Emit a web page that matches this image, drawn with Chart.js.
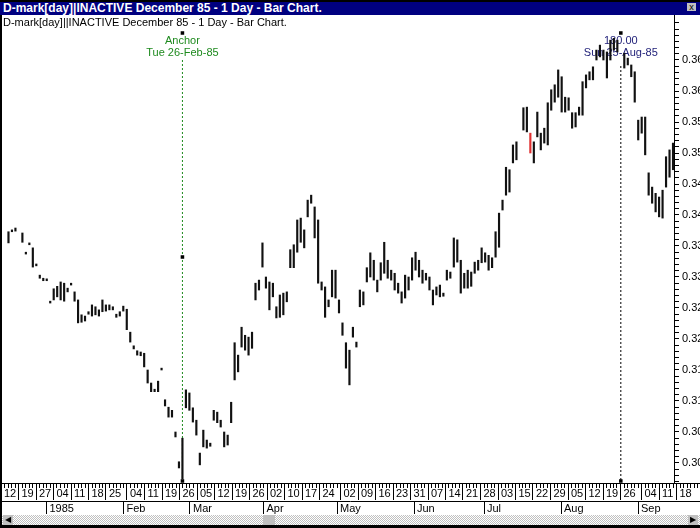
<!DOCTYPE html>
<html lang="en">
<head>
<meta charset="UTF-8">
<script src="https://cdn.jsdelivr.net/npm/chart.js@4.4.0/dist/chart.umd.min.js"></script>
<title>D-mark - Bar Chart</title>
<style>
  body { margin: 0; background: #fff; }
  #wrap { position: relative; width: 700px; height: 528px; overflow: hidden; font-family: "Liberation Sans", Arial, sans-serif; }
  #myChart { position: absolute; left: 0; top: 0; }
  #titlebar { position: absolute; left: 0; top: 0; width: 700px; height: 15px; box-sizing: border-box;
              border-top: 2px solid #000; background: #000080; color: #fff; font-weight: bold;
              font-size: 12px; line-height: 12px; padding-left: 3px; white-space: nowrap; }
  #closebtn { position: absolute; left: 687px; top: 1px; width: 9px; height: 8px; background: #c0c0c0;
              color: #000; font-size: 9px; line-height: 8px; text-align: center; font-weight: normal; }
  #subtitle { position: absolute; left: 3px; top: 16px; font-size: 11px; color: #000; white-space: nowrap; }
  #leftborder { position: absolute; left: 0; top: 15px; width: 2px; height: 513px; background: #000; }
  #scroll { position: absolute; left: 2px; top: 515px; width: 698px; height: 10px;
            background: repeating-conic-gradient(#c0c0c0 0% 25%, #ffffff 0% 50%) 0 0 / 2px 2px; }
  .sbtn { position: absolute; top: 0; width: 10px; height: 10px; background: #c0c0c0; font-size: 8px;
          line-height: 10px; text-align: center; color: #000; }
  #thumb { position: absolute; left: 261px; top: 0; width: 12px; height: 10px; background: #c0c0c0; }
  #bottomborder { position: absolute; left: 0; top: 525px; width: 700px; height: 3px; background: #000; }
</style>
</head>
<body>
<div id="wrap">
  <canvas id="myChart" width="700" height="528"></canvas>
  <div id="titlebar">D-mark[day]|INACTIVE December 85 - 1 Day - Bar Chart.<div id="closebtn">x</div></div>
  <div id="subtitle">D-mark[day]||INACTIVE December 85 - 1 Day - Bar Chart.</div>
  <div id="leftborder"></div>
  <div id="scroll"><div class="sbtn" style="left:1px">&#9664;</div><div id="thumb"></div><div class="sbtn" style="left:686px">&#9654;</div></div>
  <div id="bottomborder"></div>
</div>

<script>
// trading day index 0 = 12 Dec 1984, one entry per day (null = no bar)
const highs = [
  null, 0.3373, 0.3376, 0.3379, null, 0.3371, 0.3340, 0.3355, 0.3347, 0.3321,
  0.3303, 0.3298, 0.3297, 0.3261, 0.3281, 0.3285, 0.3292, 0.3290, 0.3282, 0.3290,
  0.3276, 0.3263, 0.3239, 0.3237, 0.3244, 0.3255, 0.3252, 0.3247, 0.3263, 0.3255,
  0.3255, 0.3252, 0.3240, 0.3244, 0.3253, 0.3248, 0.3211, 0.3189, 0.3181, 0.3179,
  0.3177, 0.3150, 0.3129, 0.3119, 0.3132, 0.3153, 0.3102, 0.3090, 0.3085, 0.3050,
  0.3002, 0.3040, 0.3118, 0.3113, 0.3089, 0.3069, 0.3016, 0.3053, 0.3037, 0.3032,
  0.3085, 0.3082, 0.3069, 0.3050, 0.3045, 0.3098, 0.3194, 0.3174, 0.3219, 0.3206,
  0.3203, 0.3211, 0.3290, 0.3295, 0.3355, 0.3300, 0.3292, 0.3290, 0.3252, 0.3271,
  0.3274, 0.3276, 0.3344, 0.3352, 0.3392, 0.3395, 0.3376, 0.3424, 0.3432, 0.3413,
  0.3392, 0.3292, 0.3284, 0.3263, 0.3311, 0.3311, 0.3263, 0.3226, 0.3194, 0.3182,
  0.3219, 0.3195, 0.3279, 0.3276, 0.3315, 0.3339, 0.3327, 0.3295, 0.3323, 0.3356,
  0.3327, 0.3311, 0.3306, 0.3290, 0.3276, 0.3303, 0.3300, 0.3331, 0.3340, 0.3327,
  0.3311, 0.3306, 0.3300, 0.3279, 0.3284, 0.3287, 0.3274, 0.3311, 0.3308, 0.3363,
  0.3360, 0.3327, 0.3306, 0.3311, 0.3308, 0.3324, 0.3327, 0.3347, 0.3339, 0.3335,
  0.3331, 0.3373, 0.3403, 0.3424, 0.3477, 0.3473, 0.3513, 0.3518, null, 0.3573,
  0.3574, 0.3532, 0.3518, 0.3566, 0.3532, 0.3540, 0.3581, 0.3602, 0.3610, 0.3634,
  0.3623, 0.3590, 0.3589, 0.3565, 0.3565, 0.3574, 0.3615, 0.3626, 0.3631, 0.3639,
  0.3666, 0.3674, 0.3666, 0.3663, 0.3682, 0.3685, 0.3682, null, 0.3661, 0.3653,
  0.3642, 0.3631, 0.3553, 0.3558, 0.3558, 0.3468, 0.3445, 0.3435, 0.3429, 0.3440,
  0.3494, 0.3505, 0.3516
];
const lows = [
  null, 0.3355, 0.3373, 0.3374, null, 0.3356, 0.3337, 0.3352, 0.3316, 0.3318,
  0.3298, 0.3294, 0.3294, 0.3258, 0.3263, 0.3268, 0.3263, 0.3261, 0.3276, 0.3287,
  0.3261, 0.3226, 0.3227, 0.3229, 0.3240, 0.3237, 0.3239, 0.3237, 0.3244, 0.3245,
  0.3247, 0.3247, 0.3235, 0.3237, 0.3245, 0.3215, 0.3195, 0.3184, 0.3174, 0.3173,
  0.3155, 0.3129, 0.3115, 0.3115, 0.3115, 0.3150, 0.3092, 0.3074, 0.3074, 0.3042,
  0.2992, 0.2974, 0.3089, 0.3085, 0.3066, 0.3045, 0.2997, 0.3026, 0.3024, 0.3027,
  0.3069, 0.3065, 0.3058, 0.3026, 0.3029, 0.3065, 0.3134, 0.3147, 0.3187, 0.3182,
  0.3174, 0.3185, 0.3263, 0.3279, 0.3316, 0.3282, 0.3247, 0.3268, 0.3234, 0.3235,
  0.3239, 0.3260, 0.3315, 0.3315, 0.3340, 0.3356, 0.3347, 0.3397, 0.3419, 0.3363,
  0.3290, 0.3279, 0.3235, 0.3252, 0.3268, 0.3266, 0.3242, 0.3206, 0.3153, 0.3126,
  0.3203, 0.3187, 0.3252, 0.3255, 0.3292, 0.3300, 0.3295, 0.3276, 0.3295, 0.3306,
  0.3298, 0.3295, 0.3279, 0.3274, 0.3258, 0.3266, 0.3279, 0.3295, 0.3311, 0.3300,
  0.3290, 0.3295, 0.3279, 0.3255, 0.3271, 0.3268, 0.3269, 0.3295, 0.3298, 0.3316,
  0.3324, 0.3274, 0.3282, 0.3282, 0.3285, 0.3306, 0.3311, 0.3323, 0.3324, 0.3311,
  0.3315, 0.3332, 0.3348, 0.3408, 0.3432, 0.3437, 0.3484, 0.3489, null, 0.3537,
  0.3534, 0.3500, 0.3484, 0.3526, 0.3505, 0.3516, 0.3513, 0.3569, 0.3582, 0.3590,
  0.3566, 0.3566, 0.3569, 0.3540, 0.3542, 0.3561, 0.3561, 0.3605, 0.3618, 0.3618,
  0.3650, 0.3655, 0.3650, 0.3621, 0.3650, 0.3666, 0.3663, null, 0.3637, 0.3642,
  0.3623, 0.3582, 0.3521, 0.3532, 0.3497, 0.3432, 0.3419, 0.3405, 0.3397, 0.3395,
  0.3445, 0.3461, 0.3473
];
const redDay = 151;

// date strip
const weekDays = [0, 5, 10, 15, 20, 25, 30, 36, 41, 46, 51, 56, 61, 66, 71, 76, 81, 86, 91,
  97, 102, 107, 112, 117, 122, 127, 132, 137, 142, 147, 152, 157, 162, 167, 172, 177, 183, 188, 193];
const weekLabels = ['12', '19', '27', '04', '11', '18', '25', '04', '11', '19', '26', '05', '12',
  '19', '26', '02', '10', '17', '24', '02', '09', '16', '23', '31', '07', '14', '21', '28', '03',
  '15', '22', '29', '05', '12', '19', '26', '04', '11', '18'];
const monthDays = [13, 35, 54, 75, 96, 118, 138, 160, 182];
const monthLabels = ['1985', 'Feb', 'Mar', 'Apr', 'May', 'Jun', 'Jul', 'Aug', 'Sep'];

// price axis labels
const priceLabels = [0.300, 0.305, 0.310, 0.315, 0.320, 0.325, 0.330, 0.335, 0.340, 0.345, 0.350, 0.355, 0.360, 0.365];

// anchor and cursor
const anchorDay = 51;
const anchorText = ['Anchor', 'Tue 26-Feb-85'];
const cursorDay = 177;
const cursorText = ['180.00', 'Sun 25-Aug-85'];

Chart.defaults.font.family = '"Liberation Sans", Arial, sans-serif';
Chart.defaults.font.size = 11;
Chart.defaults.color = '#000';

const bars = [];
for (let i = 0; i < highs.length; i++) {
    if (highs[i] !== null) bars.push({x: i, y: [lows[i], highs[i]]});
}

const rulerDays = [];
for (let d = 0; d < 200; d++) rulerDays.push(d);
const minorPrices = [];
for (let k = 297; k <= 371; k++) minorPrices.push(k / 1000);

// scale limits: 3.5px per day, 31px per 0.005
const dayMin = -1 / 3.5, dayMax = 673 / 3.5, stripMax = 699 / 3.5;
const priceMin = 0.3 - 20 / 6200, priceMax = 0.3 + 448 / 6200;
const priceAt = y => 0.3 + (463 - y) / 6200;

const noteLevels = [priceAt(41), priceAt(53)];

const notesPlugin = {
    id: 'notes',
    beforeDatasetsDraw(chart) {
        const {ctx, scales} = chart;
        ctx.save();
        ctx.font = '11px "Liberation Sans", Arial, sans-serif';
        ctx.textAlign = 'center';
        ctx.textBaseline = 'middle';
        ctx.fillStyle = '#1e8a1e';
        anchorText.forEach((t, i) => ctx.fillText(t, scales.x.getPixelForValue(anchorDay), scales.y.getPixelForValue(noteLevels[i])));
        ctx.fillStyle = '#23237a';
        cursorText.forEach((t, i) => ctx.fillText(t, scales.x.getPixelForValue(cursorDay), scales.y.getPixelForValue(noteLevels[i])));
        ctx.restore();
    }
};

// x axes share these: no bar-chart offset on any of them
const stripAxis = (weight, ticksList, height, tickLen) => ({
    type: 'linear', position: 'bottom', fullSize: true, weight: weight,
    min: dayMin, max: stripMax, offset: false,
    afterBuildTicks: s => { s.ticks = ticksList.map(v => ({value: v})); },
    afterFit: s => { s.height = height; },
    grid: { drawOnChartArea: false, offset: false, tickLength: tickLen, color: '#000' }
});

const xd = stripAxis(0, rulerDays, 0, 5);
xd.ticks = { display: false };
xd.border = { display: true, color: '#000' };

const xw = stripAxis(1, weekDays, 18, 17);
xw.ticks = { autoSkip: false, maxRotation: 0, minRotation: 0, align: 'start', labelOffset: 3,
             padding: -13, callback: (v, i) => weekLabels[i] };
xw.border = { display: false };

const xm = stripAxis(2, monthDays, 14, 13);
xm.ticks = { autoSkip: false, maxRotation: 0, minRotation: 0, align: 'start', labelOffset: 3,
             padding: -12, callback: (v, i) => monthLabels[i] };
xm.border = { display: true, color: '#000' };

const ctx = document.getElementById('myChart').getContext('2d');

new Chart(ctx, {
    type: 'bar',
    data: {
        datasets: [{
            data: bars,
            backgroundColor: c => (c.raw && c.raw.x === redDay) ? '#e03030' : '#111',
            barThickness: 1.5,
            order: 0
        }, {
            type: 'line',
            data: [{x: anchorDay, y: priceAt(60)}, {x: anchorDay, y: priceAt(481)}],
            borderColor: '#1e8a1e', borderWidth: 1, borderDash: [2, 2],
            pointRadius: 0, order: 2
        }, {
            type: 'line',
            data: [{x: cursorDay, y: priceAt(66)}, {x: cursorDay, y: priceAt(481)}],
            borderColor: '#000', borderWidth: 1, borderDash: [2, 2],
            pointRadius: 0, order: 2
        }, {
            type: 'line',
            data: [{x: anchorDay, y: priceAt(33)}, {x: anchorDay, y: priceAt(257)}, {x: anchorDay, y: priceAt(481)},
                   {x: cursorDay, y: priceAt(33)}, {x: cursorDay, y: priceAt(481)}],
            showLine: false, pointStyle: 'rect', pointRadius: 2.5,
            backgroundColor: '#000', borderColor: '#000', borderWidth: 0, order: 1
        }]
    },
    options: {
        responsive: false,
        animation: false,
        layout: { padding: { left: 0, right: 0, top: 15, bottom: 13 } },
        plugins: { legend: { display: false }, tooltip: { enabled: false } },
        scales: {
            x: { type: 'linear', display: false, min: dayMin, max: dayMax, offset: false, grid: { offset: false } },
            y: {
                type: 'linear', position: 'right', min: priceMin, max: priceMax, beginAtZero: false,
                afterBuildTicks: s => { s.ticks = minorPrices.map(v => ({value: v})); },
                afterFit: s => { s.width = 26; },
                ticks: {
                    autoSkip: false, padding: 3,
                    callback: v => priceLabels.some(p => Math.abs(p - v) < 1e-6) ? v.toFixed(3) : ''
                },
                grid: { drawOnChartArea: false, tickLength: 5, color: '#000' },
                border: { display: true, color: '#000' }
            },
            xd: xd,
            xw: xw,
            xm: xm
        }
    },
    plugins: [notesPlugin]
});
</script>
</body>
</html>
